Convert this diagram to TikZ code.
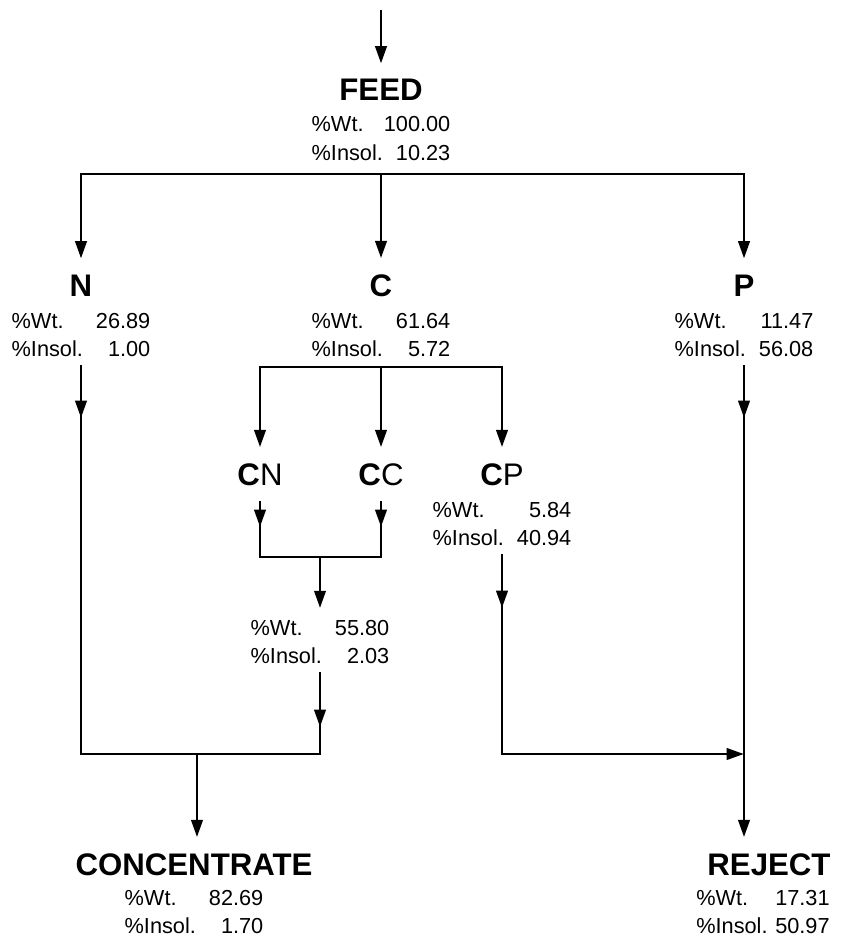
\documentclass[tikz,border=0pt]{standalone}
\usepackage{fontspec}
\setmainfont{Liberation Sans}
\usepackage{tikz}
\usetikzlibrary{arrows.meta}

\newcommand{\assaytab}[3][104pt]{%
  \begin{tabular*}{#1}[t]{@{}l@{\extracolsep{\fill}}r@{}}
  \%Wt. & #2\\
  \%Insol. & #3
  \end{tabular*}}

\begin{document}
\begin{tikzpicture}[
    x=0.75pt, y=-0.75pt,
    title/.style={font=\fontsize{23.4}{28}\selectfont\bfseries, inner sep=0pt, outer ysep=12pt, anchor=base},
    assay/.style={font=\fontsize{16.3}{21.4}\selectfont, inner sep=0pt, anchor=base},
    flow/.style={line width=2.15pt},
    arr/.style={flow, -{Triangle[length=13pt, width=8.5pt]}}
]
\useasboundingbox (0,0) rectangle (840,938);

% streams
\node[title] (feed) at (381,101) {FEED};
\node[assay] (feedst) at (381,132) {\assaytab{100.00}{10.23}};
\node[title] (n) at (81,296) {N};
\node[assay] (nst) at (81,328) {\assaytab{26.89}{1.00}};
\node[title] (c) at (381,296) {C};
\node[assay] (cst) at (381,328) {\assaytab{61.64}{5.72}};
\node[title] (p) at (744,296) {P};
\node[assay] (pst) at (744,328) {\assaytab{11.47}{56.08}};
\node[title] (cn) at (260,485) {C\mdseries N};
\node[title] (cc) at (381,485) {C\mdseries C};
\node[title] (cp) at (502,485) {C\mdseries P};
\node[assay] (cpst) at (502,517) {\assaytab{5.84}{40.94}};
\node[assay] (mixst) at (320,635) {\assaytab{55.80}{2.03}};
\node[title] (conc) at (194,875) {CONCENTRATE};
\node[assay] (concst) at (194,905) {\assaytab{82.69}{1.70}};
\node[title] (rej) at (769,875) {REJECT};
\node[assay] (rejst) at (763,905) {\assaytab[100pt]{17.31}{50.97}};

% junctions
\coordinate (top) at (381,10);
\coordinate (split) at (381,174);
\coordinate (csplit) at (381,367);
\coordinate (cnmid) at (260,527);
\coordinate (ccmid) at (381,527);
\coordinate (cjoin) at (320,557);
\coordinate (nmid) at (81,418);
\coordinate (pmid) at (744,418);
\coordinate (cpmid) at (502,608);
\coordinate (mixmid) at (320,727);
\coordinate (concj) at (197,754);
\coordinate (rejj) at (744,754);

\draw[arr] (top) -- (feed);
\draw[arr] (split) -- (c);
\draw[arr] (split) -| (n);
\draw[arr] (split) -| (p);

\draw[arr] (csplit) -- (cc);
\draw[arr] (csplit) -| (cn);
\draw[arr] (csplit) -| (cp);

\draw[flow] (cn) |- (cjoin) -| (cc);
\draw[arr] (cn) -- (cnmid);
\draw[arr] (cc) -- (ccmid);
\draw[arr, shorten >=5pt] (cjoin) -- (mixst);

\draw[flow] (nst) |- (concj) -| (mixst);
\draw[arr] (nst) -- (nmid);
\draw[arr] (mixst) -- (mixmid);
\draw[arr] (concj) -- (concj |- conc.north);

\draw[flow] (pst) -- (rejj);
\draw[arr] (pst) -- (pmid);
\draw[arr] (cpst) |- (rejj);
\draw[arr] (cpst) -- (cpmid);
\draw[arr] (rejj) -- (rejj |- rej.north);
\end{tikzpicture}
\end{document}
